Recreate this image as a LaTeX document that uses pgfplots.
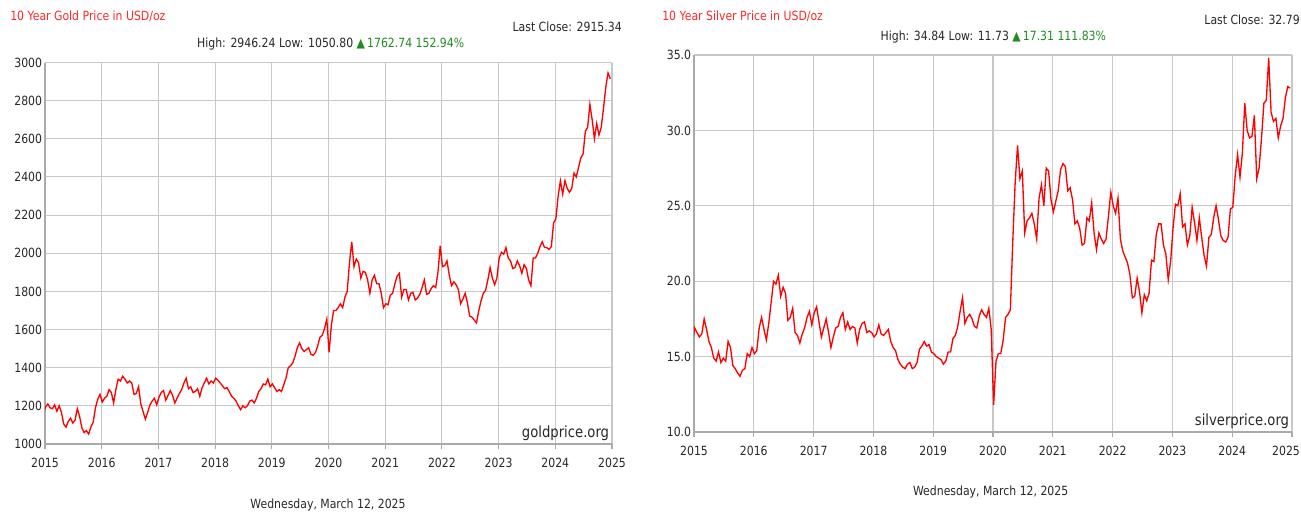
\documentclass[border=0pt]{standalone}
\usepackage{fontspec}
\setmainfont{DejaVu Sans}[FakeStretch=0.86]
\usepackage{pgfplots}
\usepackage{pgfplotstable}
\pgfplotsset{compat=1.18}
\definecolor{linered}{RGB}{255,0,0}
\definecolor{titlered}{RGB}{255,40,40}
\definecolor{upgreen}{RGB}{30,140,30}
\definecolor{txt}{RGB}{40,40,40}
\definecolor{gridc}{RGB}{200,200,200}
\definecolor{axc}{RGB}{170,170,170}

\pgfplotstableread{
x y
2014.97 1152
2015.01 1195
2015.05 1210
2015.09 1190
2015.13 1185
2015.17 1205
2015.21 1172
2015.25 1200
2015.29 1165
2015.33 1105
2015.37 1088
2015.41 1118
2015.45 1135
2015.49 1110
2015.53 1125
2015.57 1185
2015.61 1145
2015.65 1085
2015.69 1060
2015.73 1070
2015.77 1052
2015.81 1090
2015.85 1115
2015.89 1190
2015.93 1235
2015.97 1260
2016.01 1220
2016.05 1240
2016.09 1250
2016.13 1285
2016.17 1270
2016.21 1215
2016.25 1285
2016.29 1340
2016.33 1330
2016.37 1355
2016.41 1340
2016.45 1320
2016.49 1330
2016.53 1320
2016.57 1260
2016.61 1265
2016.65 1300
2016.69 1210
2016.73 1170
2016.77 1130
2016.81 1165
2016.85 1205
2016.89 1225
2016.93 1240
2016.97 1205
2017.01 1245
2017.05 1270
2017.09 1280
2017.13 1230
2017.17 1255
2017.21 1280
2017.25 1255
2017.29 1215
2017.33 1240
2017.37 1265
2017.41 1285
2017.45 1320
2017.49 1345
2017.53 1290
2017.57 1300
2017.61 1270
2017.65 1275
2017.69 1290
2017.73 1250
2017.77 1295
2017.81 1320
2017.85 1345
2017.89 1315
2017.93 1330
2017.97 1320
2018.01 1345
2018.05 1335
2018.09 1320
2018.13 1305
2018.17 1290
2018.21 1295
2018.25 1275
2018.29 1250
2018.33 1240
2018.37 1225
2018.41 1200
2018.45 1180
2018.49 1200
2018.53 1190
2018.57 1200
2018.61 1225
2018.65 1230
2018.69 1215
2018.73 1240
2018.77 1275
2018.81 1290
2018.85 1315
2018.89 1310
2018.93 1340
2018.97 1300
2019.01 1315
2019.05 1295
2019.09 1275
2019.13 1285
2019.17 1275
2019.21 1310
2019.25 1345
2019.29 1400
2019.33 1410
2019.37 1425
2019.41 1460
2019.45 1505
2019.49 1530
2019.53 1500
2019.57 1485
2019.61 1495
2019.65 1505
2019.69 1470
2019.73 1465
2019.77 1480
2019.81 1515
2019.85 1560
2019.89 1570
2019.93 1605
2019.97 1655
2020.01 1480
2020.05 1620
2020.09 1700
2020.13 1700
2020.17 1715
2020.21 1735
2020.25 1715
2020.29 1770
2020.33 1800
2020.37 1950
2020.41 2060
2020.45 1930
2020.49 1970
2020.53 1950
2020.57 1870
2020.61 1905
2020.65 1900
2020.69 1860
2020.73 1790
2020.77 1860
2020.81 1885
2020.85 1840
2020.89 1840
2020.93 1790
2020.97 1715
2021.01 1735
2021.05 1730
2021.09 1780
2021.13 1790
2021.17 1840
2021.21 1880
2021.25 1895
2021.29 1770
2021.33 1810
2021.37 1810
2021.41 1755
2021.45 1790
2021.49 1795
2021.53 1755
2021.57 1765
2021.61 1785
2021.65 1820
2021.69 1860
2021.73 1785
2021.77 1790
2021.81 1815
2021.85 1830
2021.89 1820
2021.93 1900
2021.97 2040
2022.01 1930
2022.05 1935
2022.09 1960
2022.13 1885
2022.17 1830
2022.21 1850
2022.25 1835
2022.29 1810
2022.33 1735
2022.37 1760
2022.41 1790
2022.45 1740
2022.49 1670
2022.53 1665
2022.57 1650
2022.61 1635
2022.65 1700
2022.69 1750
2022.73 1790
2022.77 1805
2022.81 1860
2022.85 1925
2022.89 1870
2022.93 1835
2022.97 1870
2023.01 1975
2023.05 2005
2023.09 1995
2023.13 2030
2023.17 1975
2023.21 1960
2023.25 1920
2023.29 1925
2023.33 1960
2023.37 1935
2023.41 1895
2023.45 1940
2023.49 1920
2023.53 1860
2023.57 1830
2023.61 1975
2023.65 1975
2023.69 2000
2023.73 2035
2023.77 2060
2023.81 2030
2023.85 2030
2023.89 2020
2023.93 2035
2023.97 2160
2024.01 2180
2024.05 2300
2024.09 2380
2024.13 2310
2024.17 2380
2024.21 2340
2024.25 2320
2024.29 2340
2024.33 2420
2024.37 2400
2024.41 2450
2024.45 2500
2024.49 2520
2024.53 2640
2024.57 2660
2024.61 2780
2024.65 2700
2024.69 2600
2024.73 2680
2024.77 2620
2024.81 2660
2024.85 2760
2024.89 2870
2024.93 2945
2024.97 2915
}\gold

\pgfplotstableread{
x y
2014.97 15.6
2015.01 16.9
2015.05 16.6
2015.09 16.3
2015.13 16.5
2015.17 17.5
2015.21 16.8
2015.25 16.0
2015.29 15.6
2015.33 14.9
2015.37 14.7
2015.41 15.3
2015.45 14.6
2015.49 14.9
2015.53 14.7
2015.57 16.0
2015.61 15.6
2015.65 14.4
2015.69 14.2
2015.73 13.9
2015.77 13.7
2015.81 14.1
2015.85 14.2
2015.89 15.2
2015.93 15.0
2015.97 15.6
2016.01 15.2
2016.05 15.4
2016.09 16.9
2016.13 17.6
2016.17 16.8
2016.21 16.1
2016.25 17.2
2016.29 18.6
2016.33 20.0
2016.37 19.8
2016.41 20.4
2016.45 19.0
2016.49 19.6
2016.53 19.2
2016.57 17.4
2016.61 17.6
2016.65 18.2
2016.69 16.6
2016.73 16.4
2016.77 15.9
2016.81 16.5
2016.85 16.9
2016.89 17.6
2016.93 18.0
2016.97 17.1
2017.01 17.9
2017.05 18.3
2017.09 17.3
2017.13 16.3
2017.17 16.9
2017.21 17.5
2017.25 16.6
2017.29 15.6
2017.33 16.3
2017.37 16.9
2017.41 17.0
2017.45 17.6
2017.49 17.9
2017.53 16.8
2017.57 17.3
2017.61 16.8
2017.65 17.0
2017.69 16.9
2017.73 15.9
2017.77 16.8
2017.81 17.2
2017.85 17.3
2017.89 16.6
2017.93 16.7
2017.97 16.6
2018.01 16.3
2018.05 16.5
2018.09 17.1
2018.13 16.5
2018.17 16.4
2018.21 16.6
2018.25 16.8
2018.29 16.0
2018.33 15.6
2018.37 15.4
2018.41 14.8
2018.45 14.5
2018.49 14.3
2018.53 14.2
2018.57 14.5
2018.61 14.6
2018.65 14.2
2018.69 14.3
2018.73 14.6
2018.77 15.5
2018.81 15.7
2018.85 16.0
2018.89 15.7
2018.93 15.8
2018.97 15.3
2019.01 15.2
2019.05 15.0
2019.09 14.9
2019.13 14.8
2019.17 14.5
2019.21 14.7
2019.25 15.3
2019.29 15.3
2019.33 16.2
2019.37 16.4
2019.41 17.0
2019.45 18.0
2019.49 18.9
2019.53 17.2
2019.57 17.6
2019.61 17.8
2019.65 17.5
2019.69 17.0
2019.73 16.9
2019.77 17.7
2019.81 18.1
2019.85 17.8
2019.89 17.6
2019.93 18.2
2019.97 16.8
2020.01 11.8
2020.05 14.7
2020.09 15.2
2020.13 15.2
2020.17 16.1
2020.21 17.6
2020.25 17.8
2020.29 18.1
2020.33 22.6
2020.37 26.5
2020.41 29.0
2020.45 26.8
2020.49 27.3
2020.53 23.2
2020.57 24.0
2020.61 24.2
2020.65 24.5
2020.69 23.8
2020.73 22.8
2020.77 25.5
2020.81 26.4
2020.85 25.0
2020.89 27.5
2020.93 27.3
2020.97 25.4
2021.01 24.6
2021.05 25.3
2021.09 26.0
2021.13 27.4
2021.17 27.8
2021.21 27.6
2021.25 26.0
2021.29 26.2
2021.33 25.4
2021.37 23.8
2021.41 24.0
2021.45 23.5
2021.49 22.4
2021.53 22.5
2021.57 24.2
2021.61 24.0
2021.65 25.2
2021.69 23.2
2021.73 22.1
2021.77 23.2
2021.81 22.8
2021.85 22.5
2021.89 22.8
2021.93 24.3
2021.97 25.9
2022.01 25.0
2022.05 24.5
2022.09 25.5
2022.13 22.8
2022.17 22.0
2022.21 21.6
2022.25 21.2
2022.29 20.4
2022.33 18.9
2022.37 19.0
2022.41 20.2
2022.45 19.3
2022.49 17.9
2022.53 19.1
2022.57 18.7
2022.61 19.2
2022.65 21.4
2022.69 21.3
2022.73 23.1
2022.77 23.8
2022.81 23.8
2022.85 22.4
2022.89 21.8
2022.93 20.1
2022.97 21.3
2023.01 23.5
2023.05 25.1
2023.09 25.0
2023.13 25.8
2023.17 23.6
2023.21 23.8
2023.25 22.4
2023.29 23.0
2023.33 24.9
2023.37 23.9
2023.41 22.7
2023.45 24.2
2023.49 22.9
2023.53 21.7
2023.57 21.0
2023.61 22.9
2023.65 23.1
2023.69 24.2
2023.73 25.0
2023.77 24.1
2023.81 23.0
2023.85 22.7
2023.89 22.6
2023.93 22.9
2023.97 24.8
2024.01 24.9
2024.05 27.0
2024.09 28.4
2024.13 26.9
2024.17 28.5
2024.21 31.8
2024.25 30.0
2024.29 29.5
2024.33 29.6
2024.37 31.0
2024.41 26.8
2024.45 27.5
2024.49 29.5
2024.53 31.8
2024.57 32.0
2024.61 34.8
2024.65 31.2
2024.69 30.6
2024.73 30.8
2024.77 29.5
2024.81 30.3
2024.85 30.8
2024.89 32.2
2024.93 32.9
2024.97 32.8
}\silver

\pgfplotsset{mychart/.style={
  scale only axis, anchor=south west,
  xmin=2015, xmax=2025, xtick={2015,2016,2017,2018,2019,2020,2021,2022,2023,2024,2025},
  /pgf/number format/assume math mode=true,
  xticklabel style={/pgf/number format/1000 sep={}, yshift=-3pt},
  grid=major, major grid style={gridc, line width=0.8pt},
  axis line style={axc, line width=0.9pt},
  axis x line*=bottom, axis y line*=left,
  tick align=outside, major tick length=4pt,
  xtick style={axc, line width=0.8pt},
  ytick style={draw=none},
  yticklabel style={xshift=3pt, inner sep=1pt},
  tick label style={font=\fontsize{9.5}{11}\selectfont, text=txt},
  clip=true,
}}

\begin{document}
\begin{tikzpicture}
\useasboundingbox (0,0) rectangle (975.75pt,384.75pt);

% Gold
\begin{axis}[mychart, at={(33.75pt,51.75pt)}, width=425.25pt, height=286.1pt,
  ymin=1000, ymax=3000, ytick={1000,1200,1400,1600,1800,2000,2200,2400,2600,2800,3000},
  yticklabel style={/pgf/number format/1000 sep={}}]
\addplot[linered, line width=1pt, no markers] table[x=x,y=y] {\gold};
\node[anchor=south east, inner sep=2pt, font=\fontsize{11.5}{13}\selectfont, text=txt] at (rel axis cs:1,0) {goldprice.org};
\end{axis}

% Silver
\begin{axis}[mychart, at={(520.5pt,60.75pt)}, width=448.5pt, height=282.75pt,
  ymin=10, ymax=35, ytick={10,15,20,25,30,35},
  xticklabels={2015,2016,2017,2018,2019,2020,2021,2022,2023,2024,\hspace*{-9pt}2025},
  yticklabel style={/pgf/number format/.cd, fixed, fixed zerofill, precision=1}]
\addplot[linered, line width=1pt, no markers] table[x=x,y=y] {\silver};
\node[anchor=south east, inner sep=2pt, font=\fontsize{11.5}{13}\selectfont, text=txt] at (rel axis cs:1,0) {silverprice.org};
\end{axis}

\begin{scope}[every node/.style={font=\fontsize{9.5}{11}\selectfont, inner sep=0pt}]
\node[anchor=west, text=titlered] at (7.5pt,372.75pt) {10 Year Gold Price in USD/oz};
\node[anchor=east, text=txt] at (466.5pt,364.5pt) {Last Close: 2915.34};
\node[text=txt] at (248pt,351.75pt) {High: 2946.24 Low: 1050.80 \textcolor{upgreen}{▲\,1762.74 152.94\%}};
\node[text=txt] at (246pt,6pt) {Wednesday, March 12, 2025};

\node[anchor=west, text=titlered] at (496.5pt,372.75pt) {10 Year Silver Price in USD/oz};
\node[anchor=east, text=txt] at (975pt,369.75pt) {Last Close: 32.79};
\node[text=txt] at (745pt,357pt) {High: 34.84 Low: 11.73 \textcolor{upgreen}{▲\,17.31 111.83\%}};
\node[text=txt] at (743pt,15.75pt) {Wednesday, March 12, 2025};
\end{scope}
\end{tikzpicture}
\end{document}
